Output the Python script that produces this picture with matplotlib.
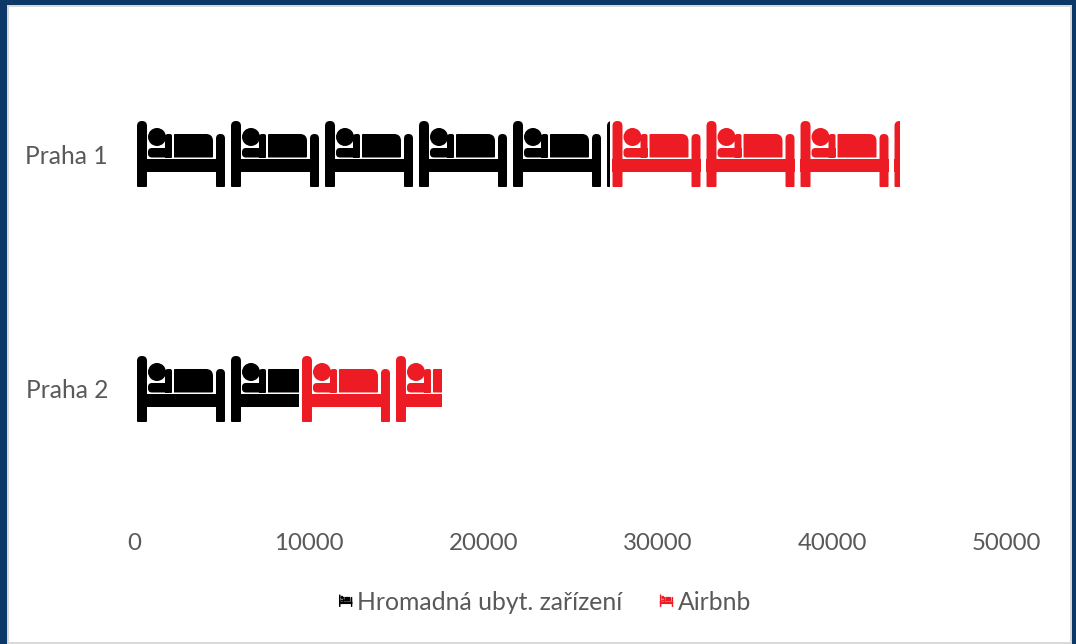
import matplotlib
matplotlib.use("Agg")
import matplotlib.pyplot as plt
from matplotlib.legend_handler import HandlerBase
from matplotlib.patches import PathPatch, Patch, Rectangle
from matplotlib.path import Path
from matplotlib.transforms import Affine2D

plt.rcParams['font.family'] = ['Lato', 'DejaVu Sans']

categories = ['Praha 1', 'Praha 2']
hotels = [27265, 9460]
airbnb = [16630, 8170]
series_names = ['Hromadná ubyt. zařízení', 'Airbnb']
x_ticks = [0, 10000, 20000, 30000, 40000, 50000]

BLACK = '#000000'
RED = '#ed1c24'
TEXT = '#595959'
ICON_STEP = 5390   # one picture in the stack, in axis units
BAR_H = 0.281


def box(x, y, w, h, tl=0, tr=0, br=0, bl=0):
    # rectangle with its own radius on each corner, always the same winding
    x2, y2 = x + w, y + h
    verts = [(x + bl, y), (x2 - br, y), (x2, y), (x2, y + br), (x2, y2 - tr), (x2, y2), (x2 - tr, y2),
             (x + tl, y2), (x, y2), (x, y2 - tl), (x, y + bl), (x, y), (x + bl, y), (x + bl, y)]
    codes = [Path.MOVETO, Path.LINETO, Path.CURVE3, Path.CURVE3, Path.LINETO, Path.CURVE3, Path.CURVE3,
             Path.LINETO, Path.CURVE3, Path.CURVE3, Path.LINETO, Path.CURVE3, Path.CURVE3, Path.CLOSEPOLY]
    return Path(verts, codes)


def bed_path():
    # drawn in a 94 x 66 box, y going up
    parts = [
        box(2.5, 0, 10, 66, tl=5, tr=5, br=1, bl=1),
        box(81.5, 0, 9, 53, tl=4.5, tr=4.5, br=1, bl=1),
        box(2.5, 15, 88, 13),
        Path.circle((22.5, 50), 9),
        box(13.5, 29.5, 24, 9.5, tl=4, bl=4, br=1),
        box(30.5, 29.5, 7, 23.5, tl=3, tr=2),
        box(39.5, 29.5, 39, 23.5, tr=7, tl=1, br=1),
    ]
    return Path.make_compound_path(*parts)


BED = bed_path()


def draw_beds(ax, y, left, value, color):
    bar = ax.barh(y, value, left=left, height=BAR_H, color='none', linewidth=0)[0]
    x = left
    while x < left + value:
        tr = Affine2D().scale(ICON_STEP / 94, -BAR_H / 66).translate(x, y + BAR_H / 2) + ax.transData
        icon = PathPatch(BED, transform=tr, facecolor=color, edgecolor='none')
        ax.add_patch(icon)
        icon.set_clip_path(bar)
        x += ICON_STEP


class BedHandler(HandlerBase):
    def create_artists(self, legend, orig_handle, xdescent, ydescent, width, height, fontsize, trans):
        tr = Affine2D().scale(width / 90, height / 66).translate(-xdescent, -ydescent) + trans
        return [PathPatch(BED, transform=tr, facecolor=orig_handle.get_facecolor(), edgecolor='none')]


fig = plt.figure(figsize=(10.76, 6.44), dpi=100, facecolor='#0c3868')
W, H = 1076, 644
fig.add_artist(Rectangle((7 / W, 0), 1065 / W, 1 - 5 / H, transform=fig.transFigure,
                         facecolor='#d9d9d9', edgecolor='none', zorder=-2))
fig.add_artist(Rectangle((9 / W, 2 / H), 1061 / W, 1 - 9 / H, transform=fig.transFigure,
                         facecolor='white', edgecolor='none', zorder=-1))

ax = fig.add_axes([134.5 / W, 1 - 506.5 / H, 872 / W, 470 / H])
ax.patch.set_alpha(0)
for i in range(len(categories)):
    draw_beds(ax, i, 0, hotels[i], BLACK)
    draw_beds(ax, i, hotels[i], airbnb[i], RED)

ax.set_xlim(0, 50000)
ax.set_ylim(1.5, -0.5)
ax.set_yticks(range(len(categories)))
ax.set_yticklabels(categories)
ax.set_xticks(x_ticks)
ax.tick_params(axis='x', length=0, pad=19, labelsize=17.3, labelcolor=TEXT)
ax.tick_params(axis='y', length=0, pad=19, labelsize=17.7, labelcolor=TEXT)
for s in ax.spines.values():
    s.set_visible(False)

handles = [Patch(facecolor=BLACK), Patch(facecolor=RED)]
fig.legend(handles, series_names, handler_map={Patch: BedHandler()},
           loc='center', bbox_to_anchor=(545 / W, 1 - 602 / H), ncol=2, frameon=False,
           fontsize=17.8, labelcolor=TEXT, handlelength=0.55, handleheight=0.4,
           handletextpad=0.2, columnspacing=1.5, borderpad=0, borderaxespad=0)

fig.savefig('out.png', dpi=100, facecolor=fig.get_facecolor())
